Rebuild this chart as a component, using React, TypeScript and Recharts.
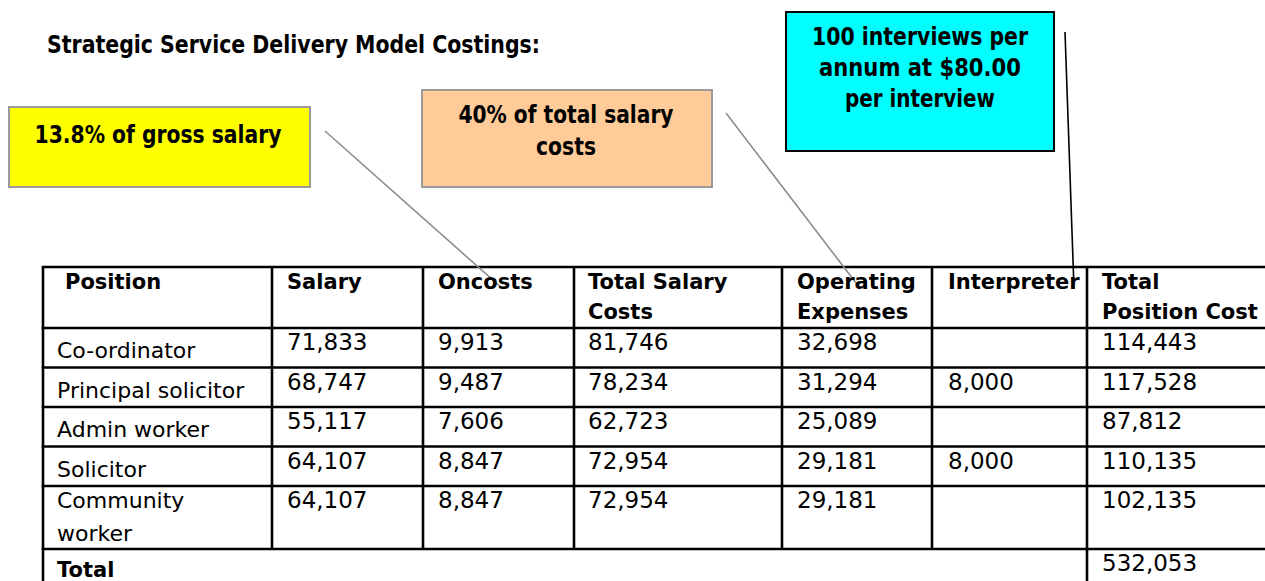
import React from "react";
import { ComposedChart, XAxis, YAxis, Scatter, ReferenceLine, ReferenceArea } from "recharts";

// ---------- data ----------
const title = "Strategic Service Delivery Model Costings:";
const headers: string[][] = [
  ["Position"],
  ["Salary"],
  ["Oncosts"],
  ["Total Salary", "Costs"],
  ["Operating", "Expenses"],
  ["Interpreter"],
  ["Total", "Position Cost"],
];
const positions: string[][] = [
  ["Co-ordinator"],
  ["Principal solicitor"],
  ["Admin worker"],
  ["Solicitor"],
  ["Community", "worker"],
];
const salary = [71833, 68747, 55117, 64107, 64107];
const oncosts = [9913, 9487, 7606, 8847, 8847];
const totalSalaryCosts = [81746, 78234, 62723, 72954, 72954];
const operatingExpenses = [32698, 31294, 25089, 29181, 29181];
const interpreter: (number | null)[] = [null, 8000, null, 8000, null];
const totalPositionCost = [114443, 117528, 87812, 110135, 102135];
const totalLabel = "Total";
const grandTotal = 532053;
const calloutTexts: string[][] = [
  ["13.8% of gross salary"],
  ["40% of total salary", "costs"],
  ["100 interviews per", "annum at $80.00", "per interview"],
];

// ---------- layout ----------
const W = 1265;
const H = 581;
const colEdges = [43, 272, 423, 574, 782, 932, 1087, W];
const colTextX = [57, 287, 438, 588, 797, 948, 1102];
const headerX0 = 65;
const rowEdges = [267, 328, 367.5, 407, 446.5, 486, 549];
const headerBaselines = [289, 319];
const labelOffset = 30;
const numOffset = 22;
const lineGap = 33;
const boxes = [
  { x1: 9, x2: 310, y1: 107, y2: 187, fill: "#FFFF00", stroke: "#9a9a9a", sw: 2, cx: 158, base: [143], widths: [247] },
  { x1: 422, x2: 712, y1: 90, y2: 187, fill: "#FFCC99", stroke: "#9a9a9a", sw: 2, cx: 566, base: [123, 155], widths: [215, 60] },
  { x1: 786, x2: 1054, y1: 12, y2: 151, fill: "#00FFFF", stroke: "#000000", sw: 2, cx: 920, base: [45, 76, 107], widths: [216, 202, 150] },
];
const connectors = [
  { a: { x: 325, y: 131 }, b: { x: 503, y: 289 }, color: "#8c8c8c" },
  { a: { x: 726, y: 113 }, b: { x: 856, y: 283 }, color: "#8c8c8c" },
  { a: { x: 1065, y: 32 }, b: { x: 1074, y: 289 }, color: "#000000" },
];

const fmt = (v: number | null) => (v == null ? "" : v.toLocaleString("en-US"));

type Cell = { x: number; y: number; text: string; anchor?: string; tl?: number };

const headerCells: Cell[] = [];
headers.forEach((lines, j) => {
  lines.forEach((t, k) => {
    headerCells.push({ x: j === 0 ? headerX0 : colTextX[j], y: headerBaselines[k], text: t });
  });
});
headerCells.push({ x: colTextX[0], y: 577, text: totalLabel });

const labelCells: Cell[] = [];
positions.forEach((lines, i) => {
  const top = rowEdges[i + 1];
  const first = lines.length > 1 ? top + numOffset : top + labelOffset;
  lines.forEach((t, k) => labelCells.push({ x: colTextX[0], y: first + k * lineGap, text: t }));
});

const numberCols = [salary, oncosts, totalSalaryCosts, operatingExpenses, interpreter, totalPositionCost];
const numberCells: Cell[] = [];
numberCols.forEach((col, j) => {
  col.forEach((v, i) => {
    if (v == null) return;
    numberCells.push({ x: colTextX[j + 1], y: rowEdges[i + 1] + numOffset, text: fmt(v) });
  });
});
numberCells.push({ x: colTextX[6], y: rowEdges[6] + numOffset, text: fmt(grandTotal) });

const calloutCells: Cell[] = [];
calloutTexts.forEach((lines, b) => {
  lines.forEach((t, k) =>
    calloutCells.push({ x: boxes[b].cx, y: boxes[b].base[k], text: t, anchor: "middle", tl: boxes[b].widths[k] })
  );
});
const titleCells: Cell[] = [{ x: 47, y: 53, text: title, tl: 493 }];

const makeShape = (family: string, size: number, weight: string | number) => (props: any) => {
  const { cx, cy, payload } = props;
  const extra: any = payload.tl ? { textLength: payload.tl, lengthAdjust: "spacingAndGlyphs" } : {};
  return (
    <text
      x={cx}
      y={cy}
      fontFamily={family}
      fontSize={size}
      fontWeight={weight}
      fill="#000"
      textAnchor={payload.anchor || "start"}
      {...extra}
    >
      {payload.text}
    </text>
  );
};

const BODY = "'DejaVu Sans', sans-serif";
const LW = 2.6;

export default function App() {
  const hLines = rowEdges.map((y) => ({ y }));
  const innerCols = colEdges.slice(1, 6);
  return (
    <div style={{ width: W, height: H, background: "#fff" }}>
      <style>{`body{margin:0;overflow:hidden;background:#fff}`}</style>
      <ComposedChart width={W} height={H} margin={{ top: 0, right: 0, bottom: 0, left: 0 }}>
        <XAxis type="number" dataKey="x" domain={[0, W]} hide allowDataOverflow />
        <YAxis type="number" dataKey="y" domain={[0, H]} reversed hide allowDataOverflow />
        {boxes.map((b, i) => (
          <ReferenceArea
            key={"box" + i}
            x1={b.x1}
            x2={b.x2}
            y1={b.y1}
            y2={b.y2}
            fill={b.fill}
            fillOpacity={1}
            stroke={b.stroke}
            strokeWidth={b.sw}
            ifOverflow="visible"
          />
        ))}
        {hLines.map((l, i) => (
          <ReferenceLine
            key={"h" + i}
            segment={[{ x: colEdges[0] - 1.3, y: l.y }, { x: W, y: l.y }]}
            stroke="#000"
            strokeWidth={LW}
            ifOverflow="visible"
          />
        ))}
        <ReferenceLine
          segment={[{ x: colEdges[0], y: rowEdges[0] }, { x: colEdges[0], y: H }]}
          stroke="#000"
          strokeWidth={LW}
          ifOverflow="visible"
        />
        <ReferenceLine
          segment={[{ x: colEdges[6], y: rowEdges[0] }, { x: colEdges[6], y: H }]}
          stroke="#000"
          strokeWidth={LW}
          ifOverflow="visible"
        />
        {innerCols.map((x, i) => (
          <ReferenceLine
            key={"v" + i}
            segment={[{ x, y: rowEdges[0] }, { x, y: rowEdges[6] }]}
            stroke="#000"
            strokeWidth={LW}
            ifOverflow="visible"
          />
        ))}
        <Scatter data={titleCells} shape={makeShape("'DejaVu Sans', sans-serif", 24, "bold")} isAnimationActive={false} />
        <Scatter data={calloutCells} shape={makeShape("'DejaVu Sans', sans-serif", 25, "bold")} isAnimationActive={false} />
        <Scatter data={headerCells} shape={makeShape(BODY, 21, "bold")} isAnimationActive={false} />
        <Scatter data={labelCells} shape={makeShape(BODY, 22, "normal")} isAnimationActive={false} />
        <Scatter data={numberCells} shape={makeShape(BODY, 23, "normal")} isAnimationActive={false} />
        {connectors.map((c, i) => (
          <ReferenceLine
            key={"c" + i}
            segment={[c.a, c.b]}
            stroke={c.color}
            strokeWidth={1.6}
            ifOverflow="visible"
          />
        ))}
      </ComposedChart>
    </div>
  );
}
